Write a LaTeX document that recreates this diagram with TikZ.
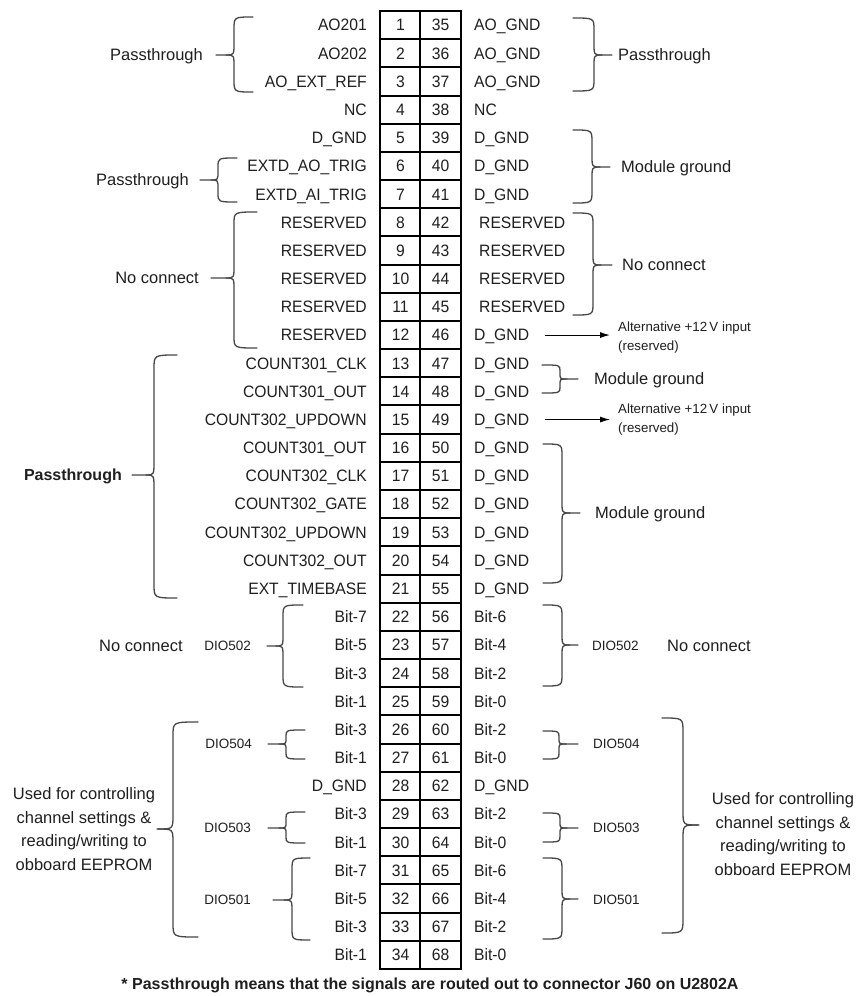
\documentclass[tikz,border=0pt]{standalone}
\usepackage{fontspec}
\setmainfont{Liberation Sans}
\newfontfamily\pinfont[FakeStretch=0.95]{Liberation Sans}
\usetikzlibrary{arrows.meta}
\newcommand{\braceAt}[8]{%
  \draw[brc] (#1,#5) .. controls (#2,#5) .. (#2,#5+#8) -- (#2,#6-#8) .. controls (#2,#6) .. (#3,#6) -- (#4,#6);
  \draw[brc] (#3,#6) .. controls (#2,#6) .. (#2,#6+#8) -- (#2,#7-#8) .. controls (#2,#7) .. (#1,#7);
}
\begin{document}
\begin{tikzpicture}[x=1pt,y=-1pt,
  brc/.style={draw=black!72, line width=1.3pt, line cap=round},
  tbl/.style={draw=black, line width=2pt},
  txt/.style={inner sep=0pt, text=black!88},
  lbl/.style={txt, font=\pinfont\fontsize{16.5}{18}\selectfont, text height=11.8pt, text depth=0pt},
  num/.style={txt, font=\pinfont\fontsize{16.5}{18}\selectfont, text height=11.8pt, text depth=0pt},
  desc/.style={txt, font=\fontsize{16.5}{19}\selectfont, text height=11.8pt, text depth=0pt},
  small/.style={txt, font=\fontsize{13.5}{15}\selectfont, text height=9.7pt, text depth=0pt},
  alt/.style={txt, font=\fontsize{13.3}{19}\selectfont, align=left},
  multi/.style={txt, font=\fontsize{16.5}{23.7}\selectfont, align=center},
  arr/.style={draw=black, line width=1pt, -{Latex[length=10pt,width=6pt]}}]
\useasboundingbox (0,0) rectangle (860,996);
\fill[white] (0,0) rectangle (860,996);

% table grid
\draw[tbl, line width=2.4pt] (380,11) rectangle (461,969);
\draw[tbl] (420,11) -- (420,969);
\foreach \k in {1,...,33} {
  \draw[tbl] (380,{11+\k*28.176}) -- (461,{11+\k*28.176});
}

% left labels and numbers
\foreach \t [count=\i] in {AO201,AO202,AO\_EXT\_REF,NC,D\_GND,EXTD\_AO\_TRIG,EXTD\_AI\_TRIG,RESERVED,RESERVED,RESERVED,RESERVED,RESERVED,COUNT301\_CLK,COUNT301\_OUT,COUNT302\_UPDOWN,COUNT301\_OUT,COUNT302\_CLK,COUNT302\_GATE,COUNT302\_UPDOWN,COUNT302\_OUT,EXT\_TIMEBASE,Bit-7,Bit-5,Bit-3,Bit-1,Bit-3,Bit-1,D\_GND,Bit-3,Bit-1,Bit-7,Bit-5,Bit-3,Bit-1} {
  \node[lbl, anchor=east] (l\i) at (367,{11+(\i-0.5)*28.176}) {\t};
  \node[num] (p\i) at (400.5,{11+(\i-0.5)*28.176}) {\i};
}
% right labels and numbers
\foreach \t [count=\i, evaluate=\i as \j using int(\i+34)] in {AO\_GND,AO\_GND,AO\_GND,NC,D\_GND,D\_GND,D\_GND,RESERVED,RESERVED,RESERVED,RESERVED,D\_GND,D\_GND,D\_GND,D\_GND,D\_GND,D\_GND,D\_GND,D\_GND,D\_GND,D\_GND,Bit-6,Bit-4,Bit-2,Bit-0,Bit-2,Bit-0,D\_GND,Bit-2,Bit-0,Bit-6,Bit-4,Bit-2,Bit-0} {
  \ifnum\i>7 \ifnum\i<12 \def\xx{479}\else\def\xx{474}\fi \else\def\xx{474}\fi
  \node[lbl, anchor=west] (l\j) at (\xx,{11+(\i-0.5)*28.176}) {\t};
  \node[num] (p\j) at (440.5,{11+(\i-0.5)*28.176}) {\j};
}

% left braces
\braceAt{253}{234}{226}{216}{17}{55}{92}{12}
\braceAt{237}{218}{211}{200}{158}{180}{202}{9}
\braceAt{257}{234}{226}{211}{212}{278}{348}{12}
\braceAt{177}{154}{146}{132}{355}{475}{598}{14}
\braceAt{303}{283}{276}{267}{605}{646}{687}{12}
\braceAt{305}{286}{279}{268}{730}{744}{759}{6}
\braceAt{305}{286}{279}{268}{812}{828}{843}{6}
\braceAt{310}{292}{284}{273}{858}{900}{940}{12}
\braceAt{198}{173}{158}{157}{722}{829}{937}{14}

% right braces
\braceAt{573}{594}{602}{612}{18}{55}{91}{12}
\braceAt{573}{592}{600}{610}{130}{167}{203}{12}
\braceAt{573}{593}{601}{612}{213}{265}{315}{12}
\braceAt{542}{560}{567}{578}{365}{379}{393}{6}
\braceAt{543}{562}{570}{580}{444}{513}{583}{12}
\braceAt{543}{562}{570}{578}{605}{645}{686}{12}
\braceAt{543}{559}{566}{578}{731}{744}{759}{6}
\braceAt{543}{560}{567}{578}{813}{828}{842}{6}
\braceAt{543}{562}{570}{578}{858}{899}{939}{12}
\braceAt{662}{683}{698}{699}{718}{825}{933}{14}

% left descriptors
\node[desc, anchor=east] (dL1) at (203,55) {Passthrough};
\node[desc, anchor=east] (dL2) at (189,180) {Passthrough};
\node[desc, anchor=east] (dL3) at (199,278) {No connect};
\node[desc, anchor=east, font=\fontsize{16}{19}\selectfont\bfseries] (dL4) at (122,475) {Passthrough};
\node[small, anchor=east] (dL5) at (251,646) {DIO502};
\node[desc, anchor=west] (dL5b) at (99,646) {No connect};
\node[small, anchor=east] (dL6) at (252,744) {DIO504};
\node[small, anchor=east] (dL7) at (251,828) {DIO503};
\node[small, anchor=east] (dL8) at (251,900) {DIO501};
\node[multi] (dL9) at (84,829) {Used for controlling\\channel settings \&\\reading/writing to\\obboard EEPROM};

% right descriptors
\node[desc, anchor=west] (dR1) at (618,55) {Passthrough};
\node[desc, anchor=west] (dR2) at (621,167) {Module ground};
\node[desc, anchor=west] (dR3) at (622,265) {No connect};
\node[alt, anchor=west] (alt1) at (618,338) {Alternative +12\,V input\\(reserved)};
\node[desc, anchor=west] (dR4) at (594,379) {Module ground};
\node[alt, anchor=west] (alt2) at (618,420) {Alternative +12\,V input\\(reserved)};
\node[desc, anchor=west] (dR5) at (595,513) {Module ground};
\node[small, anchor=west] (dR6) at (592,646) {DIO502};
\node[desc, anchor=west] (dR6b) at (667,646) {No connect};
\node[small, anchor=west] (dR7) at (593,744) {DIO504};
\node[small, anchor=west] (dR8) at (593,828) {DIO503};
\node[small, anchor=west] (dR9) at (593,900) {DIO501};
\node[multi] (dR10) at (783,834) {Used for controlling\\channel settings \&\\reading/writing to\\obboard EEPROM};

% arrows
\coordinate (a1s) at (545,{11+11.5*28.176});
\coordinate (a1e) at (610,{11+11.5*28.176});
\coordinate (a2s) at (545,{11+14.5*28.176});
\coordinate (a2e) at (610,{11+14.5*28.176});
\draw[arr] (a1s) -- (a1e);
\draw[arr] (a2s) -- (a2e);

% footnote
\node[txt, font=\fontsize{16}{18}\selectfont\bfseries] (foot) at (430,985) {* Passthrough means that the signals are routed out to connector J60 on U2802A};
\end{tikzpicture}
\end{document}
